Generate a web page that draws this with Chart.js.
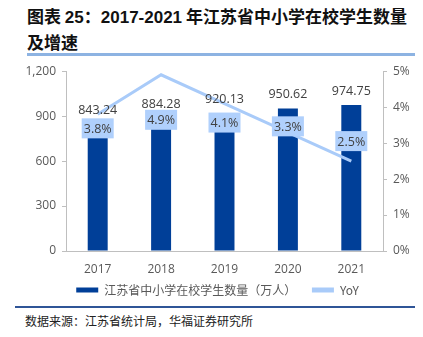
<!DOCTYPE html>
<html lang="zh">
<head>
<meta charset="UTF-8">
<title>江苏省中小学在校学生数量及增速</title>
<script src="https://cdn.jsdelivr.net/npm/chart.js"></script>
<style>
    body { margin: 0; width: 423px; height: 337px; background: #fff; position: relative; overflow: hidden; font-family: "Noto Sans CJK SC", sans-serif; }
    #title { position: absolute; left: 27px; top: 4px; font-size: 17px; font-weight: bold; line-height: 24px; color: #111; }
    #title .num { font-family: "Liberation Sans", Arial, sans-serif; }
    #rule1 { position: absolute; left: 27px; top: 53px; width: 388px; height: 3px; background: #8db3e2; }
    #wrap { position: absolute; left: 0; top: 58px; width: 423px; height: 248px; }
    #rule2 { position: absolute; left: 15px; top: 306px; width: 400px; height: 2px; background: #2f5597; }
    #source { position: absolute; left: 25px; top: 312px; font-size: 12px; color: #222; }
</style>
</head>
<body>
<div id="title">图表 <span class="num">25</span>：<span class="num">2017-2021</span> 年江苏省中小学在校学生数量<br>及增速</div>
<div id="rule1"></div>
<div id="wrap"><canvas id="chart"></canvas></div>
<div id="rule2"></div>
<div id="source">数据来源：江苏省统计局，华福证券研究所</div>
<script>
    const years = ['2017', '2018', '2019', '2020', '2021'];
    const students = [843.24, 884.28, 920.13, 950.62, 974.75];
    const yoy = [3.8, 4.9, 4.1, 3.3, 2.5];

    // where the YoY boxes sit relative to the line point (px)
    const boxShift = [14, 45, 19, -6, -20];

    const labelPlugin = {
        id: 'labels',
        afterLayout(chart) {
            // legend sits a bit right of centre in the original
            chart.legend.left += 6;
            chart.legend.right += 6;
        },
        afterDatasetsDraw(chart) {
            const ctx = chart.ctx;
            ctx.save();
            ctx.font = '12.5px "Open Sans", sans-serif';
            ctx.textAlign = 'center';
            ctx.textBaseline = 'middle';
            const bars = chart.getDatasetMeta(0).data;
            bars.forEach((bar, i) => {
                ctx.fillStyle = '#404040';
                ctx.fillText(students[i].toFixed(2), bar.x, bar.y - 14);
            });
            const pts = chart.getDatasetMeta(1).data;
            pts.forEach((p, i) => {
                const cy = p.y + boxShift[i];
                ctx.fillStyle = '#b0d0fc';
                ctx.fillRect(bars[i].x - 16, cy - 10, 32, 20);
                ctx.fillStyle = '#404040';
                ctx.fillText(yoy[i].toFixed(1) + '%', bars[i].x, cy + 1);
            });
            ctx.restore();
        }
    };

    new Chart(document.getElementById('chart'), {
        type: 'bar',
        data: {
            labels: years,
            datasets: [
                {
                    label: '江苏省中小学在校学生数量（万人）',
                    data: students,
                    backgroundColor: '#003f98',
                    yAxisID: 'y',
                    barPercentage: 0.63,
                    categoryPercentage: 0.5,
                    order: 2
                },
                {
                    type: 'line',
                    label: 'YoY',
                    data: yoy,
                    borderColor: '#a9cbf9',
                    backgroundColor: '#a9cbf9',
                    borderWidth: 3,
                    pointRadius: 0,
                    tension: 0,
                    yAxisID: 'y1',
                    order: 1
                }
            ]
        },
        options: {
            responsive: true,
            maintainAspectRatio: false,
            animation: false,
            layout: { padding: { top: 8, left: 0, right: 0, bottom: 0 } },
            plugins: {
                tooltip: { enabled: false },
                legend: {
                    position: 'bottom',
                    labels: {
                        color: '#595959',
                        font: { size: 12, family: '"Noto Sans CJK SC", sans-serif' },
                        boxWidth: 22,
                        boxHeight: 5,
                        padding: 7,
                        generateLabels(chart) {
                            return chart.data.datasets.map((ds, i) => ({
                                text: i === 0 ? ds.label + '　 ' : ds.label,
                                fillStyle: ds.backgroundColor,
                                strokeStyle: ds.backgroundColor,
                                lineWidth: 0,
                                fontColor: '#595959',
                                datasetIndex: i
                            }));
                        }
                    }
                }
            },
            scales: {
                x: {
                    grid: { display: false, drawTicks: false },
                    border: { color: '#bfbfbf' },
                    ticks: { color: '#595959', font: { size: 12, family: '"Open Sans", sans-serif' }, padding: 11 },
                    afterFit(scale) { scale.height = 26; }
                },
                y: {
                    position: 'left',
                    min: 0,
                    max: 1200,
                    ticks: {
                        stepSize: 300,
                        color: '#595959',
                        font: { size: 12, family: '"Open Sans", sans-serif' },
                        padding: 6,
                        callback: v => v.toLocaleString('en-US')
                    },
                    grid: { drawOnChartArea: false, tickLength: 4, color: '#bfbfbf' },
                    border: { color: '#bfbfbf' },
                    afterFit(scale) { scale.width = 66; }
                },
                y1: {
                    position: 'right',
                    min: 0,
                    max: 5,
                    ticks: {
                        stepSize: 1,
                        color: '#595959',
                        font: { size: 12, family: '"Open Sans", sans-serif' },
                        padding: 6,
                        callback: v => v + '%'
                    },
                    grid: { drawOnChartArea: false, tickLength: 4, color: '#bfbfbf' },
                    border: { color: '#bfbfbf' },
                    afterFit(scale) { scale.width = 40; }
                }
            }
        },
        plugins: [labelPlugin]
    });
</script>
</body>
</html>
